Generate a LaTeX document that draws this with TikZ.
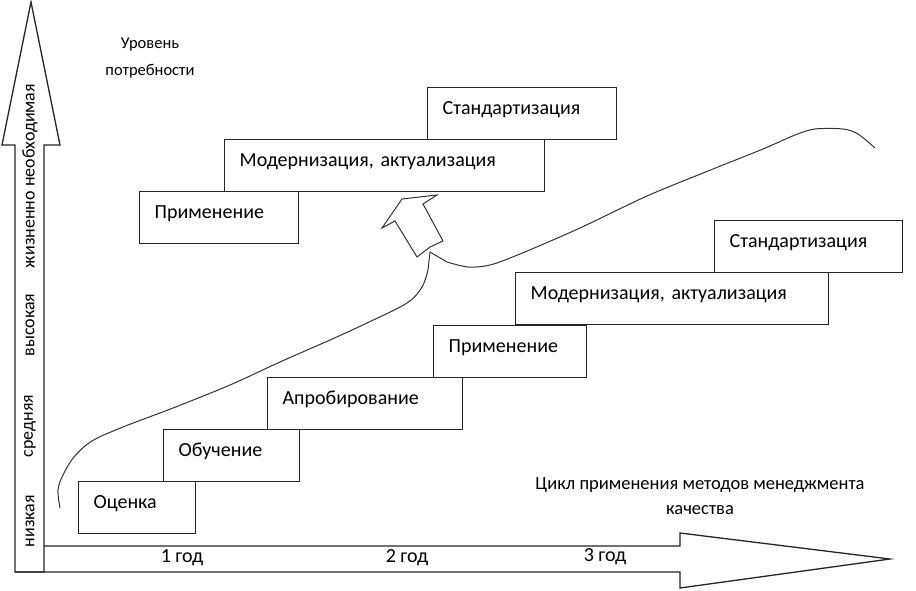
\documentclass[tikz,border=0pt]{standalone}
\usepackage{fontspec}
\setmainfont{Carlito}

\begin{document}
\begin{tikzpicture}[x=1pt, y=-1pt,
  stepbox/.style={draw=black!85, line width=1.3pt, anchor=north west, align=left,
    inner xsep=15pt, inner ysep=13pt, text height=14pt, text depth=12pt,
    font=\fontsize{20}{24}\selectfont},
  axisarrow/.style={draw=black!85, line width=1.3pt, line join=miter},
  levellabel/.style={rotate=90, inner sep=0pt, font=\fontsize{18}{20}\selectfont},
  notelabel/.style={align=center, font=\fontsize{18.5}{25}\selectfont},
  yearlabel/.style={font=\fontsize{20}{22}\selectfont},
  trend/.style={draw=black!80, line width=1pt}]

\useasboundingbox (0,0) rectangle (916,591);

% =====================================================================
% Axes: need level (up) and years of the cycle (right)
% =====================================================================
\draw[axisarrow] (44,546) -- (680,546) -- (680,533) -- (890,559)
  -- (680,588) -- (680,572) -- (15,572);
\draw[axisarrow] (15,572) -- (15,145) -- (2,145) -- (31,2) -- (60,145)
  -- (44,145) -- (44,572) -- cycle;

% level labels inside the vertical arrow
\node[levellabel] (low)  at (30,521) {низкая};
\node[levellabel] (mid)  at (30,426) {средняя};
\node[levellabel] (high) at (30,325) {высокая};
\node[levellabel] (vital) at (30,176) {жизненно необходимая};

% year labels inside the horizontal arrow
\node[yearlabel] (year1) at (182,558) {1 год};
\node[yearlabel] (year2) at (407,558) {2 год};
\node[yearlabel] (year3) at (605,557) {3 год};

% axis captions
\node[notelabel, font=\fontsize{16.5}{27}\selectfont] (need) at (150,58) {Уровень\\потребности};
\node[notelabel] (cyclecap) at (700,496) {Цикл применения методов менеджмента\\качества};

% =====================================================================
% First cycle: lower staircase
% =====================================================================
\node[stepbox, text width=87pt]  (ocenka)  at (78,481)  {Оценка};
\node[stepbox, text width=106pt] (obuch)   at (163,429) {Обучение};
\node[stepbox, text width=165pt] (aprob)   at (267,377) {Апробирование};
\node[stepbox, text width=123pt] (primen)  at (433,325) {Применение};
\node[stepbox, text width=283pt] (modern)  at (515,272) {Модернизация, актуализация};
\node[stepbox, text width=158pt] (standart) at (714,220) {Стандартизация};

% =====================================================================
% Next cycle: upper staircase
% =====================================================================
\node[stepbox, text width=129pt] (primenB)  at (139,191) {Применение};
\node[stepbox, text width=290pt] (modernB)  at (224,139) {Модернизация, актуализация};
\node[stepbox, text width=159pt] (standartB) at (427,87) {Стандартизация};

% =====================================================================
% Trend curves and the hollow arrow between cycles
% =====================================================================
\coordinate (jump) at (430,252);

\draw[trend] plot[smooth, tension=0.55] coordinates {
  (60,508) (58,490) (63,475) (74,457) (92,441) (123,427) (173,408)
  (230,385) (280,362) (330,340) (367,323) (407,303) (422,287) (428,270)}
  -- (jump);

\draw[trend] (jump) -- plot[smooth, tension=0.5] coordinates {
  (447,262) (468,267) (490,265) (520,254) (580,228) (647,196) (713,169)
  (763,149) (795,135) (815,129) (843,129) (858,134) (875,148)};

\draw[trend] (382,228) -- (402,199) -- (437,195) -- (423,204) -- (443,241)
  -- (430,247) -- (417,257) -- (395,221) -- cycle;

\end{tikzpicture}
\end{document}
